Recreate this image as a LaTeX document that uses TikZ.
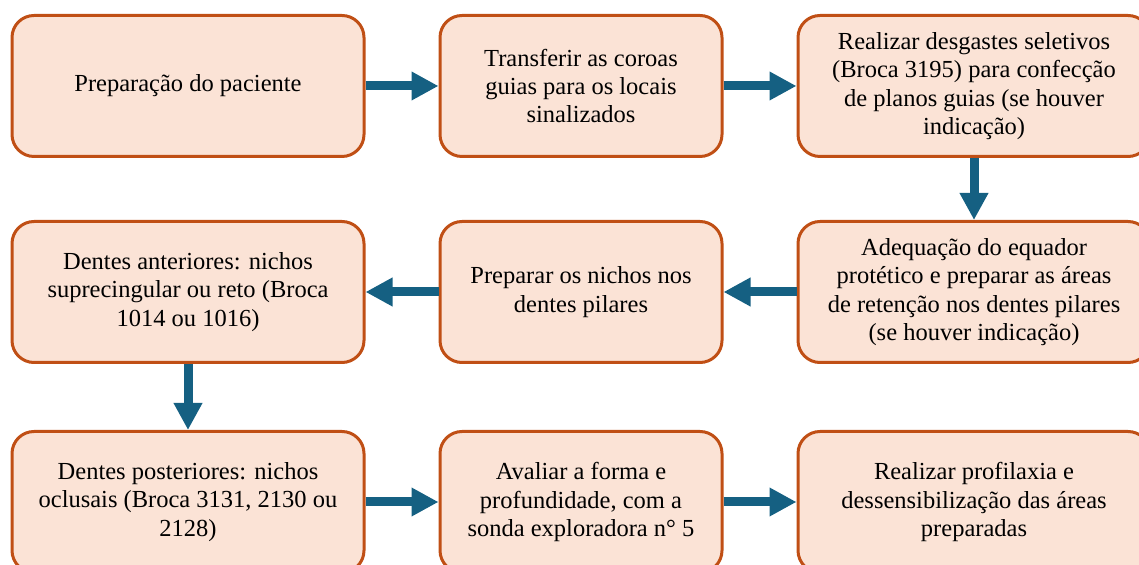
\documentclass[tikz,border=0pt]{standalone}
\usepackage{fontspec}
\setmainfont{Liberation Serif}
\usepackage{tikz}
\usetikzlibrary{arrows.meta}
\definecolor{node_peach}{RGB}{251,227,214}
\definecolor{edge_orange}{RGB}{192,79,21}
\definecolor{arrow_blue}{RGB}{21,96,130}

\begin{document}
\begin{tikzpicture}[x=0.5pt,y=-0.5pt,-{Triangle[length=13.5pt,width=13.5pt]},line width=4.5pt]
    \tikzstyle{stage}=[draw=edge_orange, line width=1.5pt, fill=node_peach, rounded corners=11pt,
      minimum width=176pt, minimum height=70.5pt, align=center, text=black,
      font=\fontsize{12.25}{14.15}\selectfont]
    \tikzstyle{stagemid}=[style=stage, minimum width=141pt]
    \tikzstyle{flow}=[draw=arrow_blue]

    \path[use as bounding box, clip] (0,0) rectangle (1139,565);

    \node[stage]    (A) at (188,86)  {Preparação do paciente};
    \node[stagemid] (B) at (581,86)  {Transferir as coroas\\guias para os locais\\sinalizados};
    \node[stage]    (C) at (974,86)  {Realizar desgastes seletivos\\(Broca 3195) para confecção\\de planos guias (se houver\\indicação)};
    \node[stage]    (D) at (974,292) {Adequação do equador\\protético e preparar as áreas\\de retenção nos dentes pilares\\(se houver indicação)};
    \node[stagemid] (E) at (581,292) {Preparar os nichos nos\\dentes pilares};
    \node[stage]    (F) at (188,292) {Dentes anteriores: nichos\\suprecingular ou reto (Broca\\1014 ou 1016)};
    \node[stage]    (G) at (188,502) {Dentes posteriores: nichos\\oclusais (Broca 3131, 2130 ou\\2128)};
    \node[stagemid] (H) at (581,502) {Avaliar a forma e\\profundidade, com a\\sonda exploradora n° 5};
    \node[stage]    (I) at (974,502) {Realizar profilaxia e\\dessensibilização das áreas\\preparadas};

    \path[flow]
     (A) edge[flow] (B)
     (B) edge[flow] (C)
     (C) edge[flow] (D)
     (D) edge[flow] (E)
     (E) edge[flow] (F)
     (F) edge[flow] (G)
     (G) edge[flow] (H)
     (H) edge[flow] (I);
\end{tikzpicture}
\end{document}
